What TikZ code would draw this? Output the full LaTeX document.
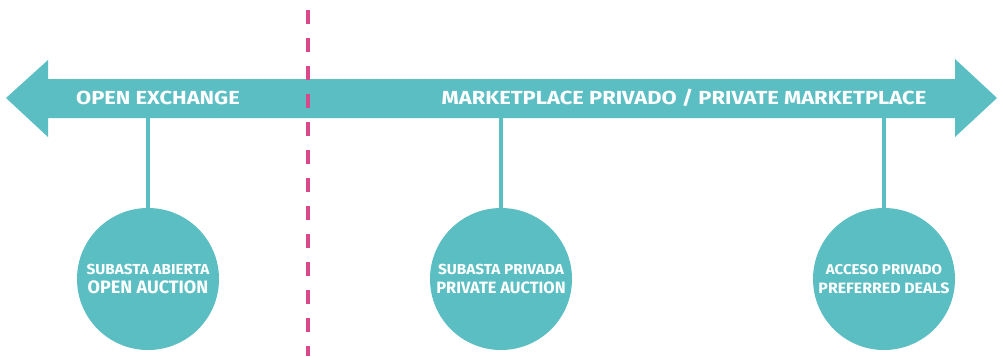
\documentclass[tikz,border=0pt]{standalone}
\usepackage{fontspec}
\setmainfont{Fira Sans}
\newfontfamily\bandfont{Fira Sans}[FakeStretch=1.16]
\newfontfamily\circfont{Fira Sans}[FakeStretch=1.06]
\definecolor{bandteal}{HTML}{5BBEC3}
\definecolor{divpink}{HTML}{D9488B}
\tikzset{
  dealcircle/.style={circle, fill=bandteal, minimum size=142pt, inner sep=0pt,
    text=white, font=\bfseries\fontsize{14}{19.5}\selectfont, align=center},
  bandlabel/.style={text=white, font=\bandfont\bfseries\fontsize{18.9}{20}\selectfont, inner sep=0pt},
  stem/.style={draw=bandteal, line width=4pt}
}
\newcommand{\smallline}[2][14.5]{{\circfont\bfseries\fontsize{#1}{20}\selectfont #2}}
\newcommand{\bigline}[2][18]{{\fontsize{#1}{20}\selectfont #2}}
\begin{document}
\begin{tikzpicture}[x=1pt,y=-1pt]
    \useasboundingbox (0,0) rectangle (1003,356);

    % Band
    \fill[bandteal] (6,98) -- (48,60) -- (48,79) -- (955,79) -- (955,59)
        -- (997,98) -- (955,137) -- (955,118) -- (48,118) -- (48,137) -- cycle;

    % Divider
    \draw[divpink, line width=4pt, dash pattern=on 14pt off 14pt] (308,10) -- (308,356);

    % Labels on the band
    \node[bandlabel] (openex) at (158,98) {OPEN EXCHANGE};
    \node[bandlabel] (privmkt) at (684,98) {MARKETPLACE PRIVADO / PRIVATE MARKETPLACE};

    % Circles
    \node[dealcircle] (openauc) at (148,279) {\smallline{SUBASTA ABIERTA}\\\bigline{OPEN AUCTION}};
    \node[dealcircle] (privauc) at (501,279) {\smallline{SUBASTA PRIVADA}\\\bigline[16.4]{PRIVATE AUCTION}};
    \node[dealcircle] (prefdeal) at (884,279) {\smallline[14.2]{ACCESO PRIVADO}\\\smallline[15]{PREFERRED DEALS}};

    % Stems
    \coordinate (s1) at (148,118);
    \coordinate (s2) at (501,118);
    \coordinate (s3) at (884,118);
    \draw[stem] (s1) -- (openauc.north);
    \draw[stem] (s2) -- (privauc.north);
    \draw[stem] (s3) -- (prefdeal.north);

\end{tikzpicture}
\end{document}
